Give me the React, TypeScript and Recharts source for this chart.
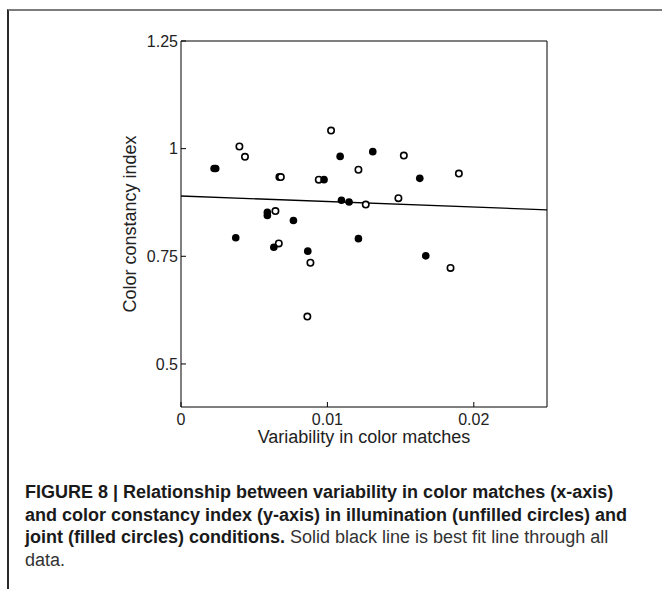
import React from 'react';
import { ScatterChart, Scatter, XAxis, YAxis, ReferenceLine } from 'recharts';

// Illumination condition (unfilled circles)
const illumX = [0.00399, 0.00437, 0.00672, 0.00682, 0.01025, 0.00941, 0.01212, 0.01522, 0.01898, 0.01485, 0.01262, 0.00645, 0.00668, 0.00884, 0.00863, 0.01841];
const illumY = [1.005, 0.981, 0.934, 0.934, 1.042, 0.928, 0.951, 0.984, 0.942, 0.885, 0.870, 0.855, 0.780, 0.735, 0.610, 0.723];

// Joint condition (filled circles)
const jointX = [0.00226, 0.00237, 0.01087, 0.0131, 0.00977, 0.01631, 0.01096, 0.01148, 0.0059, 0.0059, 0.00768, 0.00374, 0.00634, 0.00866, 0.01212, 0.01672];
const jointY = [0.954, 0.954, 0.982, 0.993, 0.928, 0.931, 0.880, 0.876, 0.852, 0.845, 0.833, 0.793, 0.771, 0.762, 0.791, 0.751];

// Best fit line endpoints
const fitX = [0, 0.025];
const fitY = [0.890, 0.858];

const xTicks = [0, 0.01, 0.02];
const yTicks = [0.5, 0.75, 1, 1.25];

const illumData = illumX.map((x, i) => ({ x, y: illumY[i] }));
const jointData = jointX.map((x, i) => ({ x, y: jointY[i] }));

const OpenDot = (p: any) => (
  <circle cx={p.cx} cy={p.cy} r={3.2} fill="#fff" stroke="#000" strokeWidth={1.6} />
);
const FilledDot = (p: any) => (
  <circle cx={p.cx} cy={p.cy} r={3.8} fill="#000" stroke="none" />
);

const tickFont = { fontFamily: '"Liberation Sans", Arial, sans-serif', fontSize: 16, fill: '#222' };
const labelFont = { fontFamily: '"Liberation Sans", Arial, sans-serif', fontSize: 18, fill: '#222' };

export default function App() {
  return (
    <div style={{ position: 'absolute', left: 0, top: 0, width: 662, height: 589, background: '#fff', overflow: 'hidden' }}>
      <div style={{ position: 'absolute', left: 7, top: 9, width: 700, height: 600, borderTop: '2px solid #7c7c7c', borderLeft: '2px solid #2a2a2a' }} />
      <div style={{ position: 'absolute', left: 0, top: 0 }}>
        <ScatterChart width={662} height={589} margin={{ top: 40, right: 114, left: 79, bottom: 122 }}>
          <XAxis
            xAxisId="b"
            dataKey="x"
            type="number"
            domain={[0, 0.025]}
            ticks={xTicks}
            allowDataOverflow
            height={60}
            stroke="#000"
            tickSize={-5}
            tickMargin={12}
            tick={tickFont}
            label={{ value: 'Variability in color matches', position: 'center', style: labelFont }}
          />
          <XAxis
            xAxisId="t"
            orientation="top"
            dataKey="x"
            type="number"
            domain={[0, 0.025]}
            ticks={xTicks}
            allowDataOverflow
            height={1}
            stroke="#000"
            tickSize={-5}
            tick={false}
          />
          <YAxis
            yAxisId="l"
            dataKey="y"
            type="number"
            domain={[0.4, 1.25]}
            ticks={yTicks}
            allowDataOverflow
            width={102}
            stroke="#000"
            tickSize={-5}
            tickMargin={8}
            tick={tickFont}
            label={{ value: 'Color constancy index', angle: -90, position: 'center', style: labelFont }}
          />
          <YAxis
            yAxisId="r"
            orientation="right"
            dataKey="y"
            type="number"
            domain={[0.4, 1.25]}
            ticks={yTicks}
            allowDataOverflow
            width={1}
            stroke="#000"
            tickSize={-5}
            tick={false}
          />
          <ReferenceLine
            xAxisId="b"
            yAxisId="l"
            segment={[{ x: fitX[0], y: fitY[0] }, { x: fitX[1], y: fitY[1] }]}
            stroke="#000"
            strokeWidth={1.3}
            ifOverflow="visible"
          />
          <Scatter xAxisId="b" yAxisId="l" data={illumData} shape={OpenDot} isAnimationActive={false} />
          <Scatter xAxisId="b" yAxisId="l" data={jointData} shape={FilledDot} isAnimationActive={false} />
        </ScatterChart>
      </div>
      <div
        style={{
          position: 'absolute',
          left: 25,
          top: 481,
          fontFamily: '"Liberation Sans", Arial, sans-serif',
          fontSize: 18,
          lineHeight: '22.5px',
          color: '#333',
          whiteSpace: 'nowrap',
        }}
      >
        <b style={{ color: '#1a1a1a' }}>FIGURE 8 | Relationship between variability in color matches (x-axis)</b>
        <br />
        <b style={{ color: '#1a1a1a' }}>and color constancy index (y-axis) in illumination (unfilled circles) and</b>
        <br />
        <b style={{ color: '#1a1a1a' }}>joint (filled circles) conditions.</b> Solid black line is best fit line through all
        <br />
        data.
      </div>
    </div>
  );
}
